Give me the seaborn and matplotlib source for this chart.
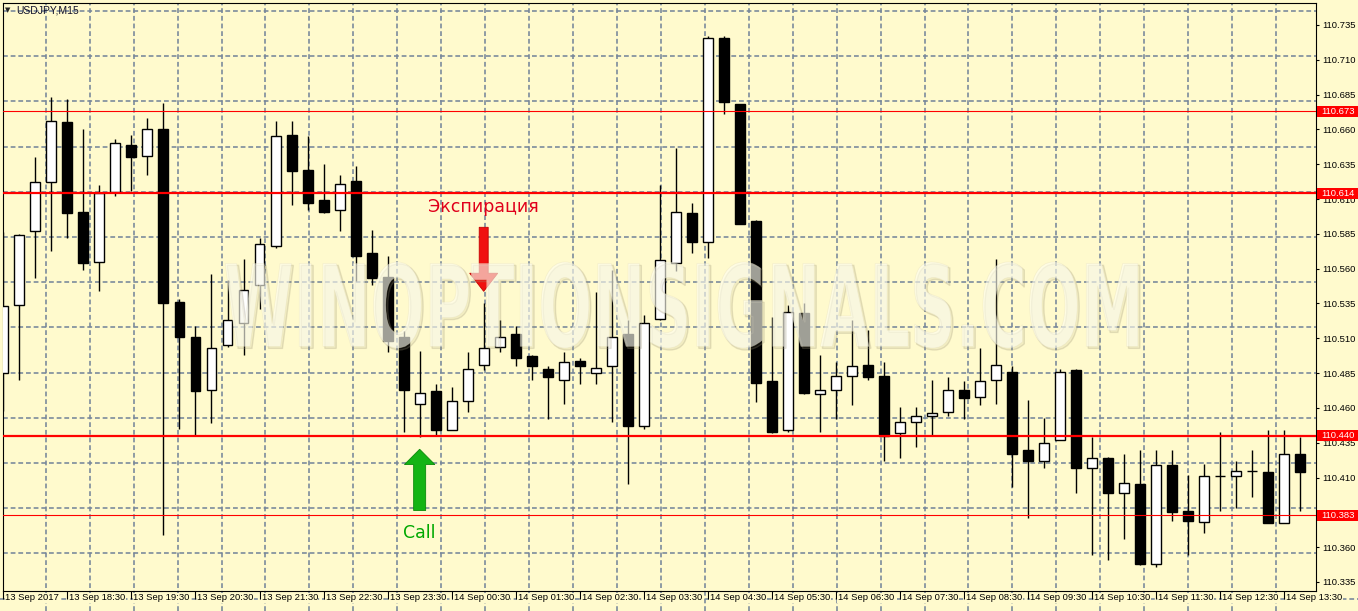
import numpy as np
import pandas as pd
import seaborn as sns
import matplotlib.pyplot as plt
import matplotlib.transforms as mtransforms
from matplotlib.patches import Rectangle, PathPatch, FancyArrow
from matplotlib.textpath import TextPath
from matplotlib.font_manager import FontProperties

# USDJPY M15 bars, 13 Sep 2017 17:30 .. 14 Sep 2017 13:45
bar_times = pd.date_range('2017-09-13 17:30', periods=82, freq='15min')

opens = [110.485, 110.534, 110.587, 110.622, 110.665, 110.601, 110.565, 110.615, 110.649, 110.641,
         110.660, 110.536, 110.511, 110.473, 110.505, 110.521, 110.548, 110.576, 110.656, 110.631,
         110.609, 110.602, 110.623, 110.571, 110.554, 110.511, 110.463, 110.472, 110.444, 110.465,
         110.491, 110.504, 110.513, 110.497, 110.488, 110.480, 110.494, 110.485, 110.490, 110.513,
         110.447, 110.524, 110.564, 110.600, 110.579, 110.726, 110.678, 110.594, 110.479, 110.444,
         110.528, 110.470, 110.473, 110.483, 110.491, 110.483, 110.442, 110.450, 110.454, 110.457,
         110.473, 110.468, 110.480, 110.486, 110.430, 110.422, 110.437, 110.487, 110.417, 110.424,
         110.399, 110.405, 110.348, 110.419, 110.386, 110.378, 110.411, 110.411, 110.415, 110.414,
         110.377, 110.427]
highs = [110.586, 110.585, 110.640, 110.683, 110.682, 110.660, 110.620, 110.653, 110.656, 110.668,
         110.679, 110.538, 110.519, 110.556, 110.552, 110.567, 110.582, 110.666, 110.666, 110.655,
         110.635, 110.627, 110.634, 110.588, 110.569, 110.515, 110.501, 110.477, 110.475, 110.500,
         110.535, 110.523, 110.519, 110.498, 110.490, 110.500, 110.496, 110.543, 110.559, 110.523,
         110.527, 110.620, 110.647, 110.607, 110.727, 110.727, 110.678, 110.595, 110.525, 110.534,
         110.535, 110.498, 110.493, 110.523, 110.516, 110.493, 110.461, 110.461, 110.480, 110.482,
         110.479, 110.503, 110.567, 110.490, 110.466, 110.453, 110.488, 110.488, 110.439, 110.425,
         110.427, 110.430, 110.430, 110.430, 110.412, 110.420, 110.443, 110.422, 110.430, 110.444,
         110.444, 110.439]
lows = [110.458, 110.480, 110.553, 110.573, 110.582, 110.559, 110.544, 110.612, 110.616, 110.627,
        110.369, 110.445, 110.440, 110.449, 110.504, 110.498, 110.531, 110.575, 110.606, 110.602,
        110.600, 110.587, 110.551, 110.548, 110.500, 110.443, 110.439, 110.440, 110.444, 110.457,
        110.487, 110.500, 110.490, 110.480, 110.452, 110.463, 110.477, 110.477, 110.450, 110.405,
        110.445, 110.523, 110.558, 110.571, 110.568, 110.671, 110.592, 110.464, 110.442, 110.443,
        110.470, 110.443, 110.452, 110.462, 110.480, 110.422, 110.424, 110.432, 110.440, 110.454,
        110.452, 110.462, 110.463, 110.403, 110.381, 110.417, 110.437, 110.399, 110.354, 110.351,
        110.366, 110.347, 110.346, 110.379, 110.354, 110.370, 110.386, 110.388, 110.396, 110.377,
        110.377, 110.386]
closes = [110.533, 110.584, 110.622, 110.666, 110.600, 110.564, 110.614, 110.650, 110.640, 110.660,
          110.535, 110.511, 110.472, 110.503, 110.523, 110.545, 110.578, 110.655, 110.630, 110.607,
          110.601, 110.621, 110.569, 110.553, 110.508, 110.473, 110.471, 110.444, 110.465, 110.488,
          110.503, 110.511, 110.496, 110.490, 110.482, 110.493, 110.490, 110.489, 110.511, 110.447,
          110.521, 110.566, 110.601, 110.579, 110.726, 110.680, 110.592, 110.478, 110.443, 110.529,
          110.471, 110.473, 110.483, 110.490, 110.482, 110.440, 110.450, 110.454, 110.456, 110.473,
          110.467, 110.479, 110.491, 110.427, 110.422, 110.435, 110.486, 110.417, 110.424, 110.399,
          110.406, 110.348, 110.419, 110.385, 110.379, 110.411, 110.411, 110.415, 110.415, 110.377,
          110.427, 110.414]

# horizontal levels drawn on the chart
levels = [110.673, 110.614, 110.440, 110.383]
level_widths = [0.8, 1.6, 1.6, 0.8]

price_ticks = [110.335, 110.360, 110.385, 110.410, 110.435, 110.460, 110.485, 110.510, 110.535,
               110.560, 110.585, 110.610, 110.635, 110.660, 110.685, 110.710, 110.735]

expiry_bar = 30
call_bar = 26

BG = '#FFFACD'
GRID = '#76869a'
FS = 6.8

sns.set_theme(style='ticks', rc={'axes.facecolor': BG, 'figure.facecolor': BG,
                                 'axes.edgecolor': 'black', 'axes.linewidth': 0.8})
plt.rcParams['font.family'] = ['Liberation Sans', 'DejaVu Sans']

W, H = 1358, 611
fig = plt.figure(figsize=(W / 100, H / 100), dpi=100)
ax = fig.add_axes([2.7 / W, 20 / H, (1316 - 2.7) / W, (591 - 2.7) / H])
ax.set_xlim(-0.04, 81.98)
ax.set_ylim(110.3285, 110.751)
ax.set_autoscale_on(False)

o = np.array(opens)
c = np.array(closes)
x = np.arange(len(o))

# grid (MT4 style, not tied to the price labels)
vtrans = mtransforms.blended_transform_factory(ax.transData, fig.transFigure)
htrans = mtransforms.blended_transform_factory(fig.transFigure, ax.transData)
ax_top = 1 - 2.7 / H
for gx in 2.65 + 2.744 * np.arange(29):
    ax.plot([gx, gx], [0, ax_top], transform=vtrans, color=GRID, lw=1.15,
            dashes=(3, 1.8), clip_on=False, zorder=0.5)
for gy in 110.745 - 0.03246 * np.arange(13):
    ax.axhline(gy, color=GRID, lw=1.15, dashes=(3, 1.8), zorder=0.5)
ax.plot([0, 1], [110.3225, 110.3225], transform=htrans, color=GRID, lw=1.15,
        dashes=(3, 1.8), clip_on=False, zorder=0.5)

# candles
ax.vlines(x, lows, highs, color='black', lw=1, zorder=2)
fills = ['white' if cc >= oo else 'black' for oo, cc in zip(o, c)]
ax.bar(x, np.abs(c - o), bottom=np.minimum(o, c), width=0.62, color=fills,
       edgecolor='black', linewidth=1, zorder=3)

# levels + their red price boxes
for lv, lw in zip(levels, level_widths):
    ax.axhline(lv, color='#ff0000', lw=lw, zorder=4)
    bh = 11 / 1392.5
    ax.add_patch(Rectangle((1316.5 / W, lv - bh / 2), (W - 1316.5) / W, bh, transform=htrans,
                           facecolor='#ff0000', edgecolor='none', clip_on=False, zorder=9))
    ax.text(1321 / W, lv, f'{lv:.3f}', transform=htrans, color='white', fontsize=FS,
            ha='left', va='center', clip_on=False, zorder=10)

# signal arrows and captions
tip = highs[expiry_bar] + 0.0087
top = tip + 0.046
ax.add_patch(FancyArrow(expiry_bar, top, 0, tip - top, width=0.56, head_width=1.75,
                        head_length=0.013, length_includes_head=True,
                        facecolor='#f01010', edgecolor='#c40000', lw=0.6, zorder=6))
ax.text(expiry_bar, top + 0.0145, 'Экспирация', color='#e0001b', fontsize=12.5,
        family='DejaVu Sans', ha='center', va='center', zorder=6)

tip = lows[call_bar] - 0.0087
bot = tip - 0.044
ax.add_patch(FancyArrow(call_bar, bot, 0, tip - bot, width=0.75, head_width=1.9,
                        head_length=0.011, length_includes_head=True,
                        facecolor='#14b414', edgecolor='#0a8a0a', lw=0.6, zorder=6))
ax.text(call_bar, bot - 0.0165, 'Call', color='#00a800', fontsize=12.5,
        family='DejaVu Sans', ha='center', va='center', zorder=6)

# watermark
tp = TextPath((0, 0), 'WINOPTIONSIGNALS.COM', size=1,
              prop=FontProperties(family='DejaVu Sans', weight='bold'))
ext = tp.get_extents()
x0, x1 = (225 - 3.3) / 16, (1137 - 3.3) / 16
y0, y1 = 110.503, 110.5648
fit = (mtransforms.Affine2D().translate(-ext.x0, -ext.y0)
       .scale((x1 - x0) / ext.width, (y1 - y0) / ext.height).translate(x0, y0))
wm = fit.transform_path(tp)
shadow = (fit + mtransforms.Affine2D().translate(0.12, -0.0014)).transform_path(tp)
ax.add_patch(PathPatch(shadow, facecolor=(0.6, 0.57, 0.45, 0.12), edgecolor=(0.6, 0.57, 0.45, 0.25),
                       lw=1.0, zorder=7))
ax.add_patch(PathPatch(wm, facecolor=(1, 1, 0.95, 0.6), edgecolor=(0.88, 0.85, 0.72, 0.35),
                       lw=0.5, zorder=8))

# axes / ticks
ax.set_xticks(x[::4])
xlabels = [t.strftime('%d %b %H:%M') for t in bar_times[::4]]
xlabels[0] = bar_times[0].strftime('%d %b %Y')
ax.set_xticklabels(xlabels)
ax.tick_params(axis='x', bottom=True, direction='out', length=6, width=0.8, pad=-4.3,
               labelsize=FS, colors='black')
shift = mtransforms.ScaledTranslation(2 / 100, 0, fig.dpi_scale_trans)
for lbl in ax.get_xticklabels():
    lbl.set_horizontalalignment('left')
    lbl.set_transform(lbl.get_transform() + shift)
    lbl.set_bbox(dict(facecolor=BG, edgecolor='none', pad=0.4))

ax.yaxis.tick_right()
ax.set_yticks(price_ticks)
ax.set_yticklabels([f'{p:.3f}' for p in price_ticks])
ax.tick_params(axis='y', right=True, left=False, labelright=True, labelleft=False,
               direction='out', length=2.5, width=0.8, pad=2, labelsize=FS, colors='black')
for s in ax.spines.values():
    s.set_visible(True)
    s.set_color('black')
    s.set_linewidth(0.8)

# chart caption
fig.text(5 / W, 1 - 10.5 / H, '\u25bc', fontsize=5, family='DejaVu Sans', va='center')
fig.text(16 / W, 1 - 10.5 / H, 'USDJPY,M15', fontsize=7.5, va='center', color='#10102a')

fig.savefig('out.png', dpi=100, facecolor=BG)
